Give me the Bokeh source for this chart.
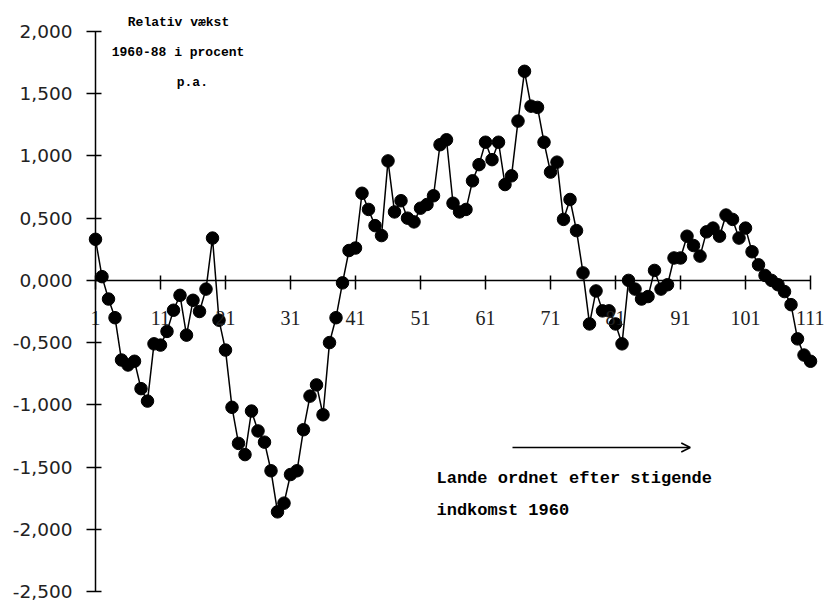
from bokeh.plotting import figure
from bokeh.models import (LinearAxis, FixedTicker, CustomJSTickFormatter, Range1d,
                          Label, Arrow, OpenHead)
from bokeh.embed import file_html
from bokeh.resources import INLINE

# ---- data -------------------------------------------------------------
growth = [
    0.33, 0.03, -0.15, -0.30, -0.64, -0.68, -0.65, -0.87, -0.97, -0.51,
    -0.52, -0.41, -0.24, -0.12, -0.44, -0.16, -0.25, -0.07, 0.34, -0.32,
    -0.56, -1.02, -1.31, -1.40, -1.05, -1.21, -1.30, -1.53, -1.86, -1.79,
    -1.56, -1.53, -1.20, -0.93, -0.84, -1.08, -0.50, -0.30, -0.02, 0.24,
    0.26, 0.70, 0.57, 0.44, 0.36, 0.96, 0.55, 0.64, 0.50, 0.47,
    0.58, 0.61, 0.68, 1.09, 1.13, 0.62, 0.55, 0.57, 0.80, 0.93,
    1.11, 0.97, 1.11, 0.77, 0.84, 1.28, 1.68, 1.40, 1.39, 1.11,
    0.87, 0.95, 0.49, 0.65, 0.40, 0.06, -0.35, -0.085, -0.245, -0.245,
    -0.35, -0.51, 0.00, -0.07, -0.15, -0.13, 0.08, -0.07, -0.035, 0.18,
    0.18, 0.355, 0.28, 0.195, 0.39, 0.42, 0.355, 0.525, 0.49, 0.34,
    0.42, 0.23, 0.125, 0.04, 0.00, -0.035, -0.09, -0.195, -0.47, -0.60,
    -0.65,
]
countries = list(range(1, len(growth) + 1))
x_ticks = [1, 11, 21, 31, 41, 51, 61, 71, 81, 91, 101, 111]
y_ticks = [-2.5, -2.0, -1.5, -1.0, -0.5, 0.0, 0.5, 1.0, 1.5, 2.0]
title_lines = ["Relativ vækst", "1960-88 i procent", "p.a."]
note_lines = ["Lande ordnet efter stigende", "indkomst 1960"]

# ---- figure -----------------------------------------------------------
# the frame covers the whole canvas; both axes are placed at fixed positions
p = figure(width=824, height=604, output_backend="svg", toolbar_location=None,
           x_range=Range1d(-13.615, 113.15), y_range=Range1d(-2.6045, 2.249),
           x_axis_location=None,
           min_border_left=0, min_border_right=0,
           min_border_top=0, min_border_bottom=0)
p.outline_line_color = None
p.background_fill_color = "white"
p.border_fill_color = "white"
for g in p.grid:
    g.visible = False

# y axis crossing at category 1
ya = p.yaxis[0]
ya.fixed_location = 1
ya.bounds = (-2.5, 2.0)
ya.ticker = FixedTicker(ticks=y_ticks)
ya.formatter = CustomJSTickFormatter(code="return tick.toFixed(3).replace('.', ',');")
ya.major_label_text_font = "DejaVu Sans"
ya.major_label_text_font_size = "18.5px"
ya.major_label_text_color = "#222222"
ya.major_label_standoff = 14
ya.major_tick_out = 9
ya.major_tick_in = 6
ya.minor_tick_line_color = None
ya.axis_line_width = 1.5
ya.major_tick_line_width = 1.5
ya.axis_line_color = "black"
ya.major_tick_line_color = "black"

# x axis crossing at zero
xa = LinearAxis(fixed_location=0, ticker=FixedTicker(ticks=x_ticks), bounds=(1, 111))
xa.major_label_text_font = "Liberation Serif"
xa.major_label_text_font_size = "20px"
xa.major_label_text_color = "#222222"
xa.major_label_standoff = 22
xa.major_tick_out = 9
xa.major_tick_in = 5
xa.minor_tick_line_color = None
xa.axis_line_width = 1.5
xa.major_tick_line_width = 1.5
xa.axis_line_color = "black"
xa.major_tick_line_color = "black"
p.add_layout(xa, "below")

# series
p.line(countries, growth, line_color="black", line_width=1.5)
p.scatter(countries, growth, size=12.5, fill_color="black", line_color="black")

# annotations
tfont = "Liberation Mono"
title_pos = [(13.77, 2.072), (13.7, 1.835), (15.9, 1.590)]
for txt, (x, y) in zip(title_lines, title_pos):
    p.add_layout(Label(x=x, y=y, text=txt, text_font=tfont, text_font_size="13px",
                       text_font_style="bold", text_align="center",
                       text_baseline="middle", text_color="black"))

note_pos = [(53.46, -1.592), (53.46, -1.849)]
for txt, (x, y) in zip(note_lines, note_pos):
    p.add_layout(Label(x=x, y=y, text=txt, text_font=tfont, text_font_size="17px",
                       text_font_style="bold", text_align="left",
                       text_baseline="middle", text_color="black"))

p.add_layout(Arrow(end=OpenHead(size=9, line_width=1.5, line_color="black"),
                   x_start=65.15, y_start=-1.343, x_end=92.5, y_end=-1.343,
                   line_width=1.5, line_color="black"))

open("out.html", "w").write(file_html(p, INLINE))
